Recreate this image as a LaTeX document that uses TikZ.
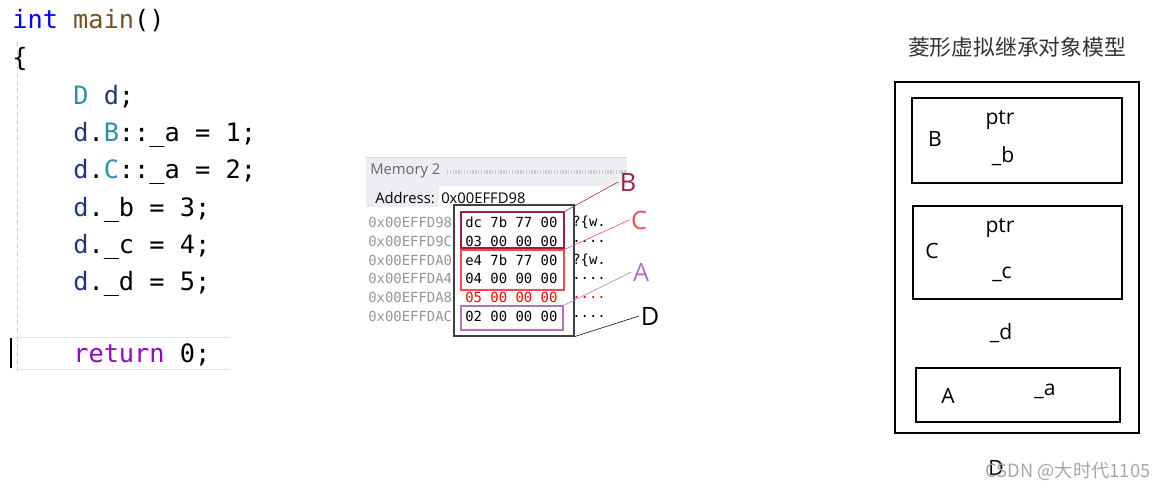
\documentclass[tikz,border=0pt]{standalone}
\usepackage{fontspec}
\setmainfont{Open Sans}
\setmonofont{DejaVu Sans Mono}
\newfontfamily\cjk{Noto Sans CJK SC}

\definecolor{kwblue}{RGB}{0,0,255}
\definecolor{fnbrown}{RGB}{116,83,31}
\definecolor{clsteal}{RGB}{43,145,175}
\definecolor{varblue}{RGB}{31,55,127}
\definecolor{retpurple}{RGB}{143,8,196}
\definecolor{addrgray}{RGB}{150,150,150}
\definecolor{colB}{RGB}{155,30,60}
\definecolor{colC}{RGB}{245,75,80}
\definecolor{colA}{RGB}{180,110,200}
\definecolor{bargray}{RGB}{238,238,242}

\begin{document}
\begin{tikzpicture}[x=0.025cm, y=-0.025cm,
    code/.style={anchor=base west, inner sep=0pt, font=\ttfamily\fontsize{18pt}{20pt}\selectfont},
    mem/.style={anchor=west, inner sep=0pt, font=\ttfamily\fontsize{9.9pt}{11pt}\selectfont},
    membox/.style={rectangle, draw, line width=0.8pt, inner sep=0pt},
    memlbl/.style={inner sep=1pt, font=\fontsize{18pt}{20pt}\selectfont},
    objbox/.style={rectangle, draw, line width=1.6pt, inner sep=0pt},
    objtxt/.style={inner sep=1pt, font=\fontsize{15pt}{17pt}\selectfont}]
    \useasboundingbox (0,0) rectangle (1168,492);

    % code listing
    \draw[gray!35, dash pattern=on 3.5pt off 2pt] (17,42) -- (17,372);
    \draw[gray!20] (15,337) -- (230,337);
    \draw[gray!20] (15,369) -- (230,369);
    \draw[black, line width=1.5pt] (11,338) -- (11,368);
    \node[code] (line1) at (12,29) {{\color{kwblue}int} {\color{fnbrown}main}()};
    \node[code] (line2) at (12,67) {\{};
    \node[code] (line3) at (73,105) {{\color{clsteal}D} {\color{varblue}d};};
    \node[code] (line4) at (73,142) {{\color{varblue}d}.{\color{clsteal}B}::\_a = 1;};
    \node[code] (line5) at (73,179) {{\color{varblue}d}.{\color{clsteal}C}::\_a = 2;};
    \node[code] (line6) at (73,216) {{\color{varblue}d}.\_b = 3;};
    \node[code] (line7) at (73,253) {{\color{varblue}d}.\_c = 4;};
    \node[code] (line8) at (73,290) {{\color{varblue}d}.\_d = 5;};
    \node[code] (line9) at (73,362) {{\color{retpurple}return} 0;};

    % memory window
    \fill[bargray] (366,157) rectangle (627,207);
    \draw[gray!30] (366,157) -- (627,157);
    \draw[gray!40, line width=3pt, dash pattern=on 1pt off 1pt] (447,172) -- (627,172);
    \fill[white] (439,186) rectangle (627,207);
    \node[anchor=west, inner sep=0pt, text=black!60, font=\fontsize{10.5pt}{12pt}\selectfont] (memtitle) at (370,171) {Memory 2};
    \node[anchor=west, inner sep=0pt, font=\fontsize{10.5pt}{12pt}\selectfont] (addrlbl) at (375,198) {Address:};
    \node[anchor=west, inner sep=0pt, font=\fontsize{10.5pt}{12pt}\selectfont] (addrval) at (441,198) {0x00EFFD98};

    \node[mem, text=addrgray] (a1) at (368,222) {0x00EFFD98};
    \node[mem, text=addrgray] (a2) at (368,241) {0x00EFFD9C};
    \node[mem, text=addrgray] (a3) at (368,260) {0x00EFFDA0};
    \node[mem, text=addrgray] (a4) at (368,278) {0x00EFFDA4};
    \node[mem, text=addrgray] (a5) at (368,297) {0x00EFFDA8};
    \node[mem, text=addrgray] (a6) at (368,316) {0x00EFFDAC};
    \node[mem] (v1) at (465,222) {dc 7b 77 00};
    \node[mem] (v2) at (465,241) {03 00 00 00};
    \node[mem] (v3) at (465,260) {e4 7b 77 00};
    \node[mem] (v4) at (465,278) {04 00 00 00};
    \node[mem, text=red] (v5) at (465,297) {05 00 00 00};
    \node[mem] (v6) at (465,316) {02 00 00 00};
    \node[mem] (c1) at (572,222) {?\{w.};
    \node[mem] (c2) at (572,241) {....};
    \node[mem] (c3) at (572,260) {?\{w.};
    \node[mem] (c4) at (572,278) {....};
    \node[mem, text=red] (c5) at (572,297) {....};
    \node[mem] (c6) at (572,316) {....};

    \node[membox, draw=black!75, minimum width=3cm, minimum height=3.275cm] (memD) at (514,270.5) {};
    \node[membox, draw=colB, minimum width=2.575cm, minimum height=0.9cm] (memB) at (512.5,230) {};
    \node[membox, draw=colC, minimum width=2.575cm, minimum height=1cm] (memC) at (512.5,270) {};
    \node[membox, draw=colA, minimum width=2.55cm, minimum height=0.6cm] (memA) at (512,318) {};

    \node[memlbl, text=colB] (lblB) at (628,182) {B};
    \node[memlbl, text=colC] (lblC) at (639,220) {C};
    \node[memlbl, text=colA] (lblA) at (641,272) {A};
    \node[memlbl] (lblD) at (650,316) {D};
    \draw[colB] (memB.north east) -- (lblB.west);
    \draw[colC] (memC.north east) -- (lblC.west);
    \draw[colA] (memA.north east) -- (lblA.west);
    \draw[black] (memD.south east) -- (lblD.west);

    % object model
    \node[inner sep=0pt, font=\cjk\fontsize{15.5pt}{17pt}\selectfont, text=black!80] (title) at (1017,47) {菱形虚拟继承对象模型};
    \node[objbox, line width=1.3pt, minimum width=6.1cm, minimum height=8.775cm] (objD) at (1017,257.5) {};
    \node[objbox, minimum width=5.25cm, minimum height=2.125cm] (objB) at (1017,140.5) {};
    \node[objbox, minimum width=5.225cm, minimum height=2.325cm] (objC) at (1017.5,252.5) {};
    \node[objbox, minimum width=5.1cm, minimum height=1.35cm] (objA) at (1018,395) {};
    \node[objtxt] (ptrB) at (1000,120) {ptr};
    \node[objtxt] (nameB) at (935,139) {B};
    \node[objtxt] (memb) at (1003,156) {\_b};
    \node[objtxt] (ptrC) at (1000,228) {ptr};
    \node[objtxt] (nameC) at (932,251) {C};
    \node[objtxt] (memc) at (1002,274) {\_c};
    \node[objtxt] (memd) at (1001,333) {\_d};
    \node[objtxt] (nameA) at (948,396) {A};
    \node[objtxt] (mema) at (1045,391) {\_a};
    \node[objtxt] (nameD) at (996,468) {D};
    \node[inner sep=0pt, text=black!35, font=\cjk\fontsize{13pt}{15pt}\selectfont] (mark) at (1068,471) {CSDN @大时代1105};
\end{tikzpicture}
\end{document}
